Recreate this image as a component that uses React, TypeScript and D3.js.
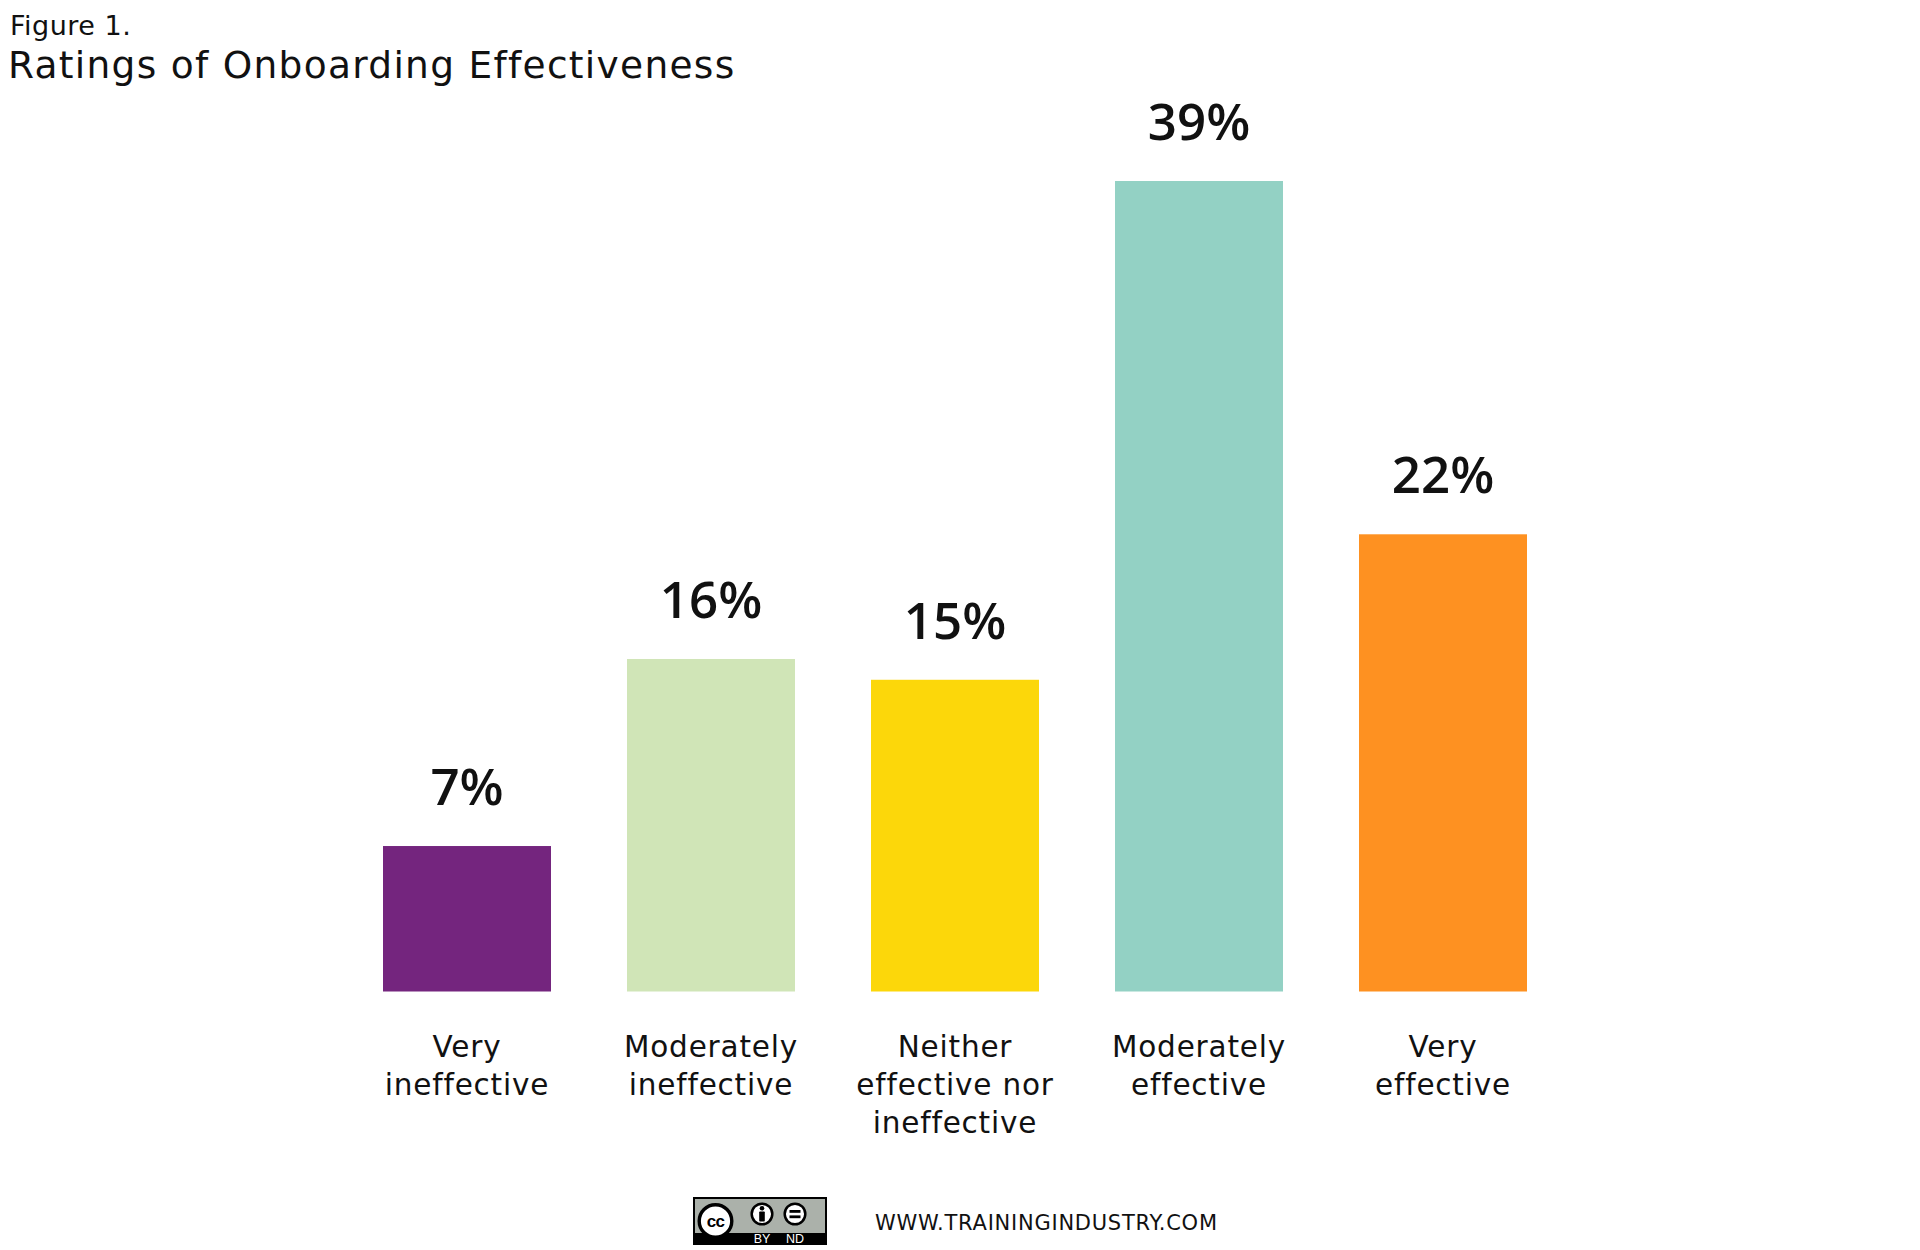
import * as d3 from "d3";

const categories = [
  ["Very", "ineffective"],
  ["Moderately", "ineffective"],
  ["Neither", "effective nor", "ineffective"],
  ["Moderately", "effective"],
  ["Very", "effective"],
];
const values = [7, 16, 15, 39, 22];
const colors = ["#74257e", "#d0e5b7", "#fcd70a", "#93d1c4", "#fe9121"];

const WIDTH = 1920;
const HEIGHT = 1250;
const FONT = "'DejaVu Sans', sans-serif";

// creative commons BY-ND badge, drawn by hand
function CcBadge({ x, y }: { x: number; y: number }) {
  return (
    <g transform={`translate(${x},${y})`}>
      <rect x={1} y={1} width={132} height={46} fill="#abb1aa" stroke="#000" strokeWidth={2} />
      <rect x={1} y={36} width={132} height={11} fill="#000" />
      <circle cx={22.5} cy={24} r={16.3} fill="#fff" stroke="#000" strokeWidth={3.4} />
      <text
        x={22.5}
        y={29.5}
        textAnchor="middle"
        fontFamily="'Liberation Sans', sans-serif"
        fontWeight="bold"
        fontSize={17}
        letterSpacing={-0.6}
      >
        cc
      </text>
      <circle cx={69} cy={17} r={10.3} fill="#fff" stroke="#000" strokeWidth={2.5} />
      <circle cx={69} cy={11.3} r={2.3} fill="#000" />
      <rect x={66.2} y={14.5} width={5.6} height={10} rx={0.8} fill="#000" />
      <circle cx={102} cy={17} r={10.3} fill="#fff" stroke="#000" strokeWidth={2.5} />
      <rect x={96.5} y={13} width={11} height={2.8} fill="#000" />
      <rect x={96.5} y={18.4} width={11} height={2.8} fill="#000" />
      <text x={69} y={46} textAnchor="middle" fontFamily="'Liberation Sans', sans-serif" fontSize={12.5} fill="#fff">
        BY
      </text>
      <text x={102} y={46} textAnchor="middle" fontFamily="'Liberation Sans', sans-serif" fontSize={12.5} fill="#fff">
        ND
      </text>
    </g>
  );
}

export default function App() {
  const x = d3
    .scaleBand<number>()
    .domain(d3.range(values.length))
    .range([345, 1565])
    .paddingInner(76 / 244)
    .paddingOuter(38 / 244);

  const y = d3.scaleLinear().domain([0, 39]).range([991.5, 181]);

  return (
    <>
      <style>{"body{margin:0;background:#fff}"}</style>
      <svg width={WIDTH} height={HEIGHT} style={{ display: "block" }}>
        <rect width={WIDTH} height={HEIGHT} fill="#fff" />
        <text x={10} y={35} fontFamily={FONT} fontSize={27} letterSpacing={0.5} fill="#111">
          Figure 1.
        </text>
        <text x={8} y={78} fontFamily={FONT} fontSize={37.5} letterSpacing={1.3} fill="#111">
          Ratings of Onboarding Effectiveness
        </text>

        {values.map((v, i) => {
          const bx = x(i)!;
          const cx = bx + x.bandwidth() / 2;
          return (
            <g key={i}>
              <rect x={bx} y={y(v)} width={x.bandwidth()} height={y(0) - y(v)} fill={colors[i]} />
              <text
                x={cx}
                y={y(v) - 41}
                textAnchor="middle"
                fontFamily="'Open Sans', sans-serif"
                fontWeight={600}
                fontSize={51}
                fill="#111"
              >
                {v}%
              </text>
              <text
                x={cx}
                y={1057}
                textAnchor="middle"
                fontFamily={FONT}
                fontSize={29.5}
                letterSpacing={0.8}
                fill="#111"
              >
                {categories[i].map((line, j) => (
                  <tspan key={j} x={cx} dy={j === 0 ? 0 : 38}>
                    {line}
                  </tspan>
                ))}
              </text>
            </g>
          );
        })}

        <CcBadge x={693} y={1197} />
        <text
          x={875}
          y={1230}
          fontFamily={FONT}
          fontSize={21}
          textLength={342}
          lengthAdjust="spacing"
          fill="#111"
        >
          WWW.TRAININGINDUSTRY.COM
        </text>
      </svg>
    </>
  );
}
